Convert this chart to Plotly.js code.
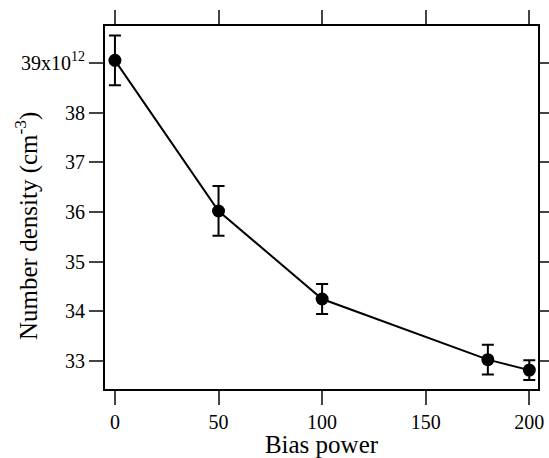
<!DOCTYPE html>
<html>
<head>
<meta charset="utf-8">
<script src="https://cdn.plot.ly/plotly-3.0.1.min.js"></script>
<style>html,body{margin:0;padding:0;background:#fff;}#chart{width:549px;height:458px;}</style>
</head>
<body>
<div id="chart"></div>
<script>
const biasPower = [0, 50, 100, 180, 200];
const density = [39.05, 36.02, 34.25, 33.03, 32.82];
const densityErr = [0.5, 0.5, 0.3, 0.3, 0.2];
const xTickVals = [0, 50, 100, 150, 200];
const yTickVals = [33, 34, 35, 36, 37, 38, 39];
const yTickText = ['33', '34', '35', '36', '37', '38', '39x10<sup>12</sup>'];
const xTitle = 'Bias power';
const yTitle = 'Number density (cm<sup>-3</sup>)';

const font = {family: 'Liberation Serif, Times New Roman, serif', color: '#000'};

Plotly.newPlot('chart', [{
  x: biasPower, y: density, type: 'scatter', mode: 'lines+markers',
  line: {color: '#000', width: 2},
  marker: {color: '#000', size: 13},
  error_y: {type: 'data', array: densityErr, visible: true, color: '#000', thickness: 2, width: 6}
}], {
  width: 549, height: 458,
  margin: {l: 105, r: 11, t: 26, b: 69},
  paper_bgcolor: '#fff', plot_bgcolor: '#fff',
  showlegend: false,
  font: Object.assign({size: 20}, font),
  xaxis: {
    range: [-4.8, 204.2], tickvals: xTickVals, ticks: 'outside', ticklen: 14, tickwidth: 2,
    showline: true, linewidth: 2, linecolor: '#000', mirror: 'ticks', showgrid: false, zeroline: false,
    tickfont: Object.assign({size: 20}, font),
    title: {text: xTitle, font: Object.assign({size: 25}, font), standoff: 2}
  },
  yaxis: {
    range: [32.44, 39.74], tickvals: yTickVals, ticktext: yTickText, ticks: 'outside', ticklen: 14, tickwidth: 2,
    showline: true, linewidth: 2, linecolor: '#000', mirror: 'ticks', showgrid: false, zeroline: false,
    tickfont: Object.assign({size: 20}, font)
  },
  annotations: [{
    text: yTitle, textangle: -90, showarrow: false,
    xref: 'paper', yref: 'paper', x: (26 - 105) / 433, y: (389 - 226) / 363,
    xanchor: 'center', yanchor: 'middle',
    font: Object.assign({size: 25}, font)
  }]
}, {displayModeBar: false});
</script>
</body>
</html>
